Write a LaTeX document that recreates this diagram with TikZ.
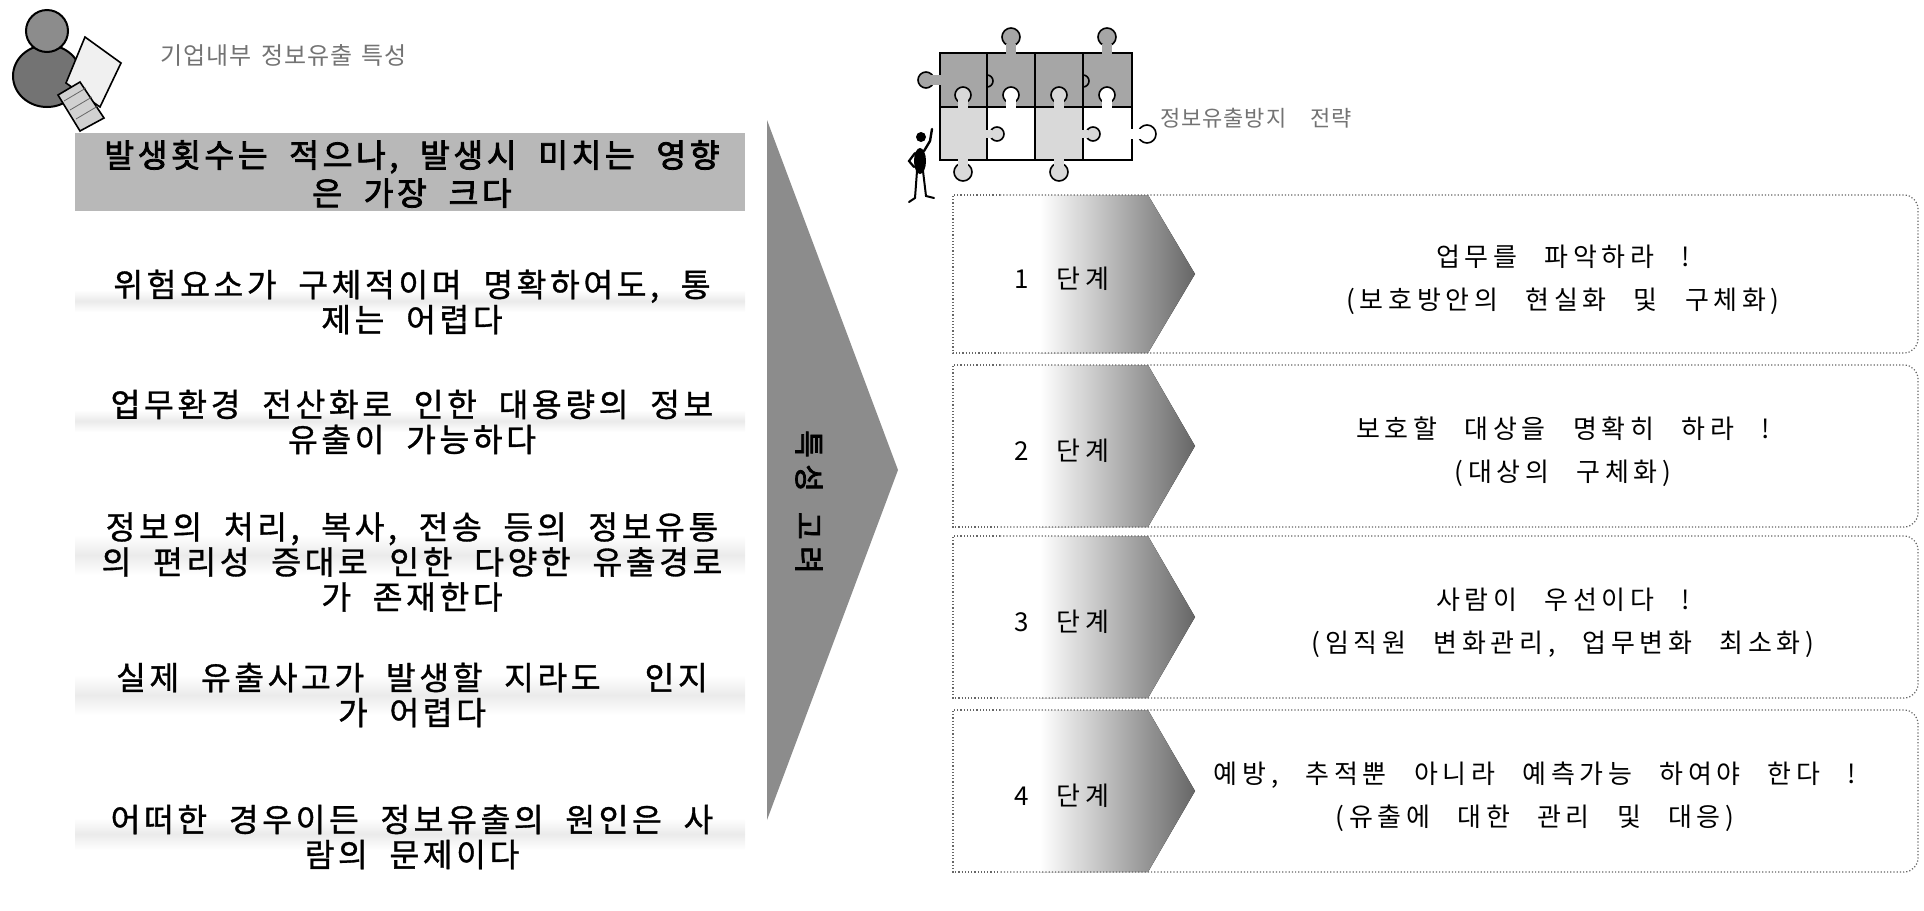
\documentclass[tikz,border=0pt]{standalone}
\usepackage{fontspec}
\newfontfamily\krleft[WordSpace=2.0,LetterSpace=11,FakeBold=1]{Noto Sans CJK KR}
\newfontfamily\krleftb[WordSpace=2.0,LetterSpace=11,FakeBold=2.4]{Noto Sans CJK KR}
\newfontfamily\krstep[WordSpace=2.6,LetterSpace=18]{Noto Sans CJK KR}
\newfontfamily\krtitle[WordSpace=1.5,LetterSpace=4]{Noto Sans CJK KR}
\newfontfamily\krarrow[WordSpace=1.5,LetterSpace=22,FakeBold=2.5]{Noto Sans CJK KR}
\begin{document}
\begin{tikzpicture}[x=0.5pt,y=-0.5pt,
  title/.style={anchor=west,inner sep=0,text=black!55,font=\krtitle\fontsize{12pt}{14pt}\selectfont},
  subtitle/.style={anchor=west,inner sep=0,text=black!55,font=\krtitle\fontsize{11pt}{13pt}\selectfont},
  leftblock/.style={align=center,inner sep=0,font=\krleft\fontsize{16.2pt}{17.5pt}\selectfont},
  leftblockb/.style={align=center,inner sep=0,font=\krleftb\fontsize{16.2pt}{19pt}\selectfont},
  band/.style={top color=white,bottom color=white,middle color=black!8},
  hibox/.style={fill=black!28},
  bigarrow/.style={fill=black!45},
  arrowtext/.style={inner sep=0,rotate=-90,font=\krarrow\fontsize{15pt}{17pt}\selectfont},
  rowline/.style={draw=black!60,densely dotted,line width=0.6pt},
  chevron/.style={left color=white,right color=black!60},
  steplabel/.style={inner sep=0,font=\krstep\fontsize{13pt}{15pt}\selectfont},
  steptext/.style={align=center,inner sep=0,font=\krstep\fontsize{13pt}{21.5pt}\selectfont},
  pzline/.style={draw=black,line width=0.8pt},
  pzdark/.style={fill=black!35},
  pzlight/.style={fill=black!15},
  pzwhite/.style={fill=white}]
\useasboundingbox (0,0) rectangle (1924,911);

% ---------- person with laptop ----------
\filldraw[fill=black!55,draw=black,line width=1pt] (47,76) ellipse [x radius=34,y radius=31];
\filldraw[fill=black!45,draw=black,line width=1pt] (47,31) circle [radius=21];
\filldraw[fill=black!6,draw=black,line width=0.8pt] (85,37) -- (121,63) -- (100,107) -- (66,83) -- cycle;
\filldraw[fill=black!18,draw=black,line width=0.8pt] (58,95) -- (80,82) -- (104,118) -- (80,131) -- cycle;
\draw[black!60,line width=0.4pt] (64,101) -- (86,88) (70,110) -- (92,97) (76,119) -- (98,106);
\node[title] (lefttitle) at (160,55) {기업내부 정보유출 특성};

% ---------- left column ----------
\fill[hibox] (75,133) rectangle (745,211);
\fill[band] (75,290) rectangle (745,312);
\fill[band] (75,410) rectangle (745,432);
\fill[band] (75,535) rectangle (745,575);
\fill[band] (75,675) rectangle (745,715);
\fill[band] (75,818) rectangle (745,850);

\node[leftblockb] (b1) at (412,174) {발생횟수는 적으나, 발생시 미치는 영향\\은 가장 크다};
\node[leftblock] (b2) at (412,302) {위험요소가 구체적이며 명확하여도, 통\\제는 어렵다};
\node[leftblock] (b3) at (412,422) {업무환경 전산화로 인한 대용량의 정보\\유출이 가능하다};
\node[leftblock] (b4) at (412,562) {정보의 처리, 복사, 전송 등의 정보유통\\의 편리성 증대로 인한 다양한 유출경로\\가 존재한다};
\node[leftblock] (b5) at (412,695) {실제 유출사고가 발생할 지라도\hspace{22pt}인지\\가 어렵다};
\node[leftblock] (b6) at (412,837) {어떠한 경우이든 정보유출의 원인은 사\\람의 문제이다};

% ---------- big arrow ----------
\fill[bigarrow] (767,120) -- (898,470) -- (767,820) -- cycle;
\node[arrowtext] (arrowlabel) at (809,502) {특성 고려};

% ---------- puzzle and figure ----------
\fill[pzdark] (940,53) rectangle (1132,107);
\fill[pzlight] (940,107) rectangle (987,160);
\fill[pzwhite] (987,107) rectangle (1035,160);
\fill[pzlight] (1035,107) rectangle (1083,160);
\fill[pzwhite] (1083,107) rectangle (1132,160);
\draw[pzline] (940,53) rectangle (1132,160);
\draw[pzline] (940,107) -- (1132,107)
  (987,53) -- (987,160) (1035,53) -- (1035,160) (1083,53) -- (1083,160);
% outer tabs
\filldraw[pzdark,pzline] (1011,37) circle [radius=9];
\fill[pzdark] (1006,44) rectangle (1016,54);
\filldraw[pzdark,pzline] (1107,37) circle [radius=9];
\fill[pzdark] (1102,44) rectangle (1112,54);
\filldraw[pzdark,pzline] (926,80) circle [radius=8];
\fill[pzdark] (931,75) rectangle (941,85);
\filldraw[pzwhite,pzline] (1147,134) circle [radius=9];
\fill[pzwhite] (1131,129) rectangle (1141,139);
\filldraw[pzlight,pzline] (963,172) circle [radius=9];
\fill[pzlight] (958,159) rectangle (968,166);
\filldraw[pzlight,pzline] (1059,172) circle [radius=9];
\fill[pzlight] (1054,159) rectangle (1064,166);
% inner tabs
\filldraw[pzlight,pzline] (963,95) circle [radius=8];
\fill[pzlight] (958,100) rectangle (968,108);
\filldraw[pzwhite,pzline] (1011,95) circle [radius=8];
\fill[pzwhite] (1006,100) rectangle (1016,108);
\filldraw[pzlight,pzline] (1059,95) circle [radius=8];
\fill[pzlight] (1054,100) rectangle (1064,108);
\filldraw[pzwhite,pzline] (1107,95) circle [radius=8];
\fill[pzwhite] (1102,100) rectangle (1112,108);
\filldraw[pzlight,pzline] (997,134) circle [radius=7];
\fill[pzlight] (985,130) rectangle (992,138);
\filldraw[pzlight,pzline] (1093,134) circle [radius=7];
\fill[pzlight] (1081,130) rectangle (1088,138);
\draw[pzline] (987,75) arc [start angle=-90,end angle=90,radius=6];
\draw[pzline] (1083,75) arc [start angle=-90,end angle=90,radius=6];
% small figure
\fill (921,137) circle [radius=5];
\fill (920,161) ellipse [x radius=6,y radius=13];
\draw[line width=1.2pt,line cap=round] (924,151) -- (930,141) -- (932,129);
\draw[line width=1.1pt,line cap=round] (915,153) -- (909,161) -- (914,167);
\draw[line width=1pt,line cap=round] (917,171) -- (915,198) -- (909,202);
\draw[line width=1pt,line cap=round] (923,171) -- (926,196) -- (934,198);
\node[subtitle] (righttitle) at (1160,118) {정보유출방지\hspace{12pt}전략};

% ---------- strategy steps ----------
\foreach \t/\b in {195/353,365/527,536/698,710/872}{
  \fill[chevron] (1040,\t) -- (1148,\t) -- (1195,{(\t+\b)/2}) -- (1148,\b) -- (1040,\b) -- cycle;
  \draw[rowline] (1000,\t) -- (953,\t) -- (953,\b) -- (1000,\b);
  \draw[rowline,rounded corners=7pt] (1000,\t) -- (1918,\t) -- (1918,\b) -- (1000,\b);
}
\node[steplabel] (s1) at (1062,279) {1 단계};
\node[steplabel] (s2) at (1062,451) {2 단계};
\node[steplabel] (s3) at (1062,622) {3 단계};
\node[steplabel] (s4) at (1062,796) {4 단계};
\node[steptext] (t1) at (1563,280) {업무를 파악하라 !\\(보호방안의 현실화 및 구체화)};
\node[steptext] (t2) at (1563,452) {보호할 대상을 명확히 하라 !\\(대상의 구체화)};
\node[steptext] (t3) at (1563,623) {사람이 우선이다 !\\(임직원 변화관리, 업무변화 최소화)};
\node[steptext] (t4) at (1535,797) {예방, 추적뿐 아니라 예측가능 하여야 한다 !\\(유출에 대한 관리 및 대응)};
\end{tikzpicture}
\end{document}
